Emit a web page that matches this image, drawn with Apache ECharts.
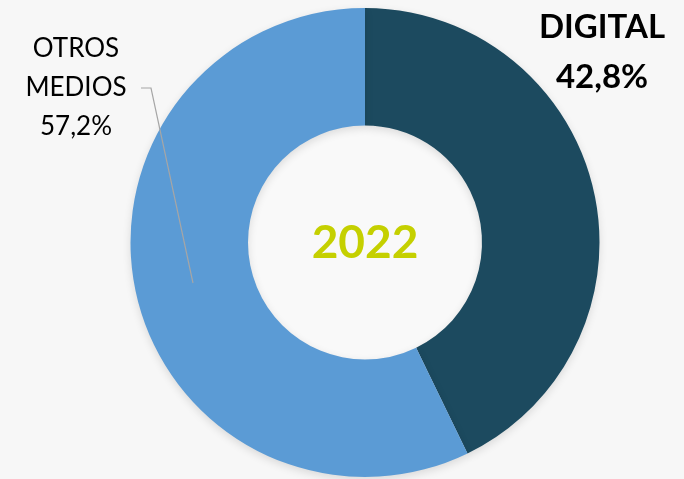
<!DOCTYPE html>
<html>
<head>
<meta charset="utf-8">
<script src="https://cdn.jsdelivr.net/npm/echarts@6/dist/echarts.min.js"></script>
<style>
html,body{margin:0;padding:0;background:#f7f7f7;}
#c{width:684px;height:479px;}
</style>
</head>
<body>
<div id="c"></div>
<script>
const categories = ['DIGITAL', 'OTROS\nMEDIOS'];
const values = [42.8, 57.2];
const valueLabels = ['42,8%', '57,2%'];
const colors = ['#1c4a5f', '#5b9bd5'];
const centerText = '2022';

const chart = echarts.init(document.getElementById('c'));
chart.setOption({
  backgroundColor: '#f7f7f7',
  animation: false,
  graphic: [{
    type: 'circle', shape: {cx: 365, cy: 242.5, r: 117}, style: {fill: '#f9f9f9'}, z: 0
  }, {
    type: 'text', x: 365, y: 243, z: 10,
    style: {text: centerText, fill: '#c5d000', font: 'bold 46px Lato', align: 'center', verticalAlign: 'middle'}
  }, {
    type: 'polyline', z: 10,
    shape: {points: [[141, 88], [151, 88], [193, 283]]},
    style: {stroke: '#a6a6a6', lineWidth: 1.2, fill: null}
  }],
  series: [{
    type: 'pie',
    center: [365, 242.5],
    radius: [117, 234.5],
    startAngle: 90,
    clockwise: true,
    itemStyle: {shadowBlur: 8, shadowColor: 'rgba(0,0,0,0.12)', shadowOffsetY: 3},
    emphasis: {disabled: true},
    labelLine: {show: false},
    data: categories.map((c, i) => ({
      name: c, value: values[i],
      itemStyle: {color: colors[i]},
      label: i === 0 ? {
        formatter: c + '\n' + valueLabels[i],
        fontFamily: 'Lato', fontWeight: 'bold', fontSize: 33, color: '#000', lineHeight: 50
      } : {
        formatter: c + '\n' + valueLabels[i],
        fontFamily: 'Lato', fontWeight: 'normal', fontSize: 26, color: '#000', lineHeight: 39
      }
    })),
    label: {show: true, position: 'outside', align: 'center', overflow: 'none', width: 300},
    labelLayout: function (p) {
      if (p.dataIndex === 0) {
        return {x: 602, y: 52, align: 'center', verticalAlign: 'middle'};
      }
      return {x: 76, y: 88, align: 'center', verticalAlign: 'middle'};
    }
  }]
});
</script>
</body>
</html>
